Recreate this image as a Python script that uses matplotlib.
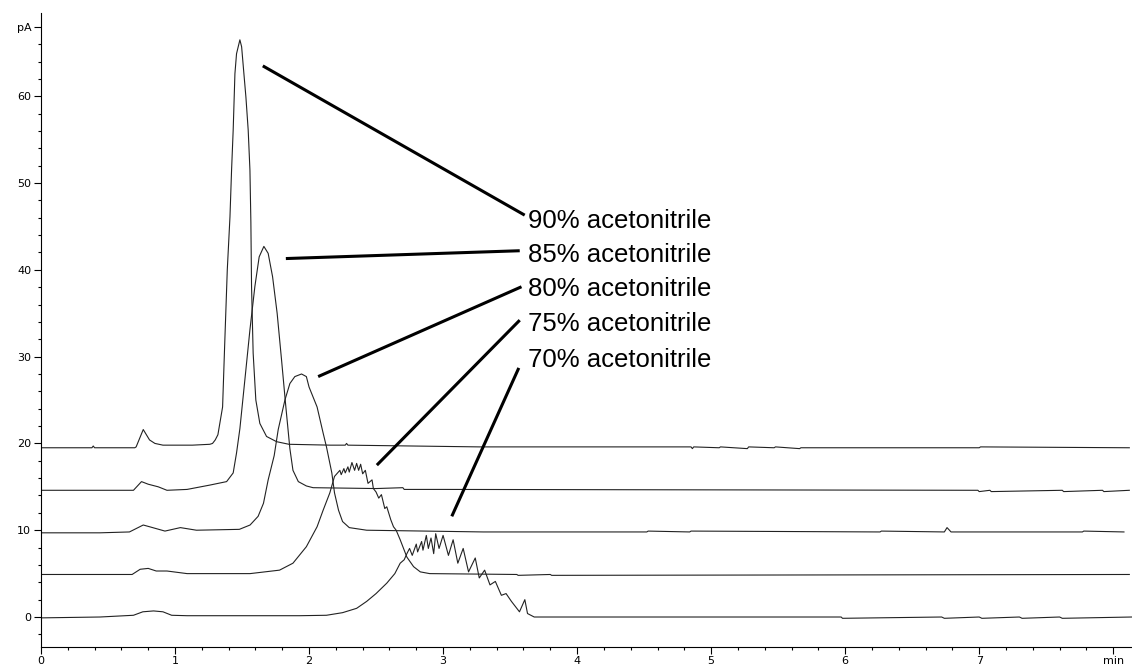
import matplotlib
matplotlib.use('Agg')
import matplotlib.pyplot as plt
from matplotlib.ticker import MultipleLocator, FixedLocator, FixedFormatter

# chromatogram traces: time (min), signal (pA)
t90 = [0.0, 0.38, 0.39, 0.40, 0.70, 0.71, 0.763, 0.81, 0.85, 0.91, 1.13, 1.26, 1.28, 1.30, 1.32,
       1.355, 1.37, 1.39, 1.41, 1.422, 1.434, 1.447, 1.459, 1.484, 1.497, 1.514, 1.529, 1.546,
       1.559, 1.566, 1.571, 1.583, 1.603, 1.633, 1.683, 1.758, 1.85, 2.16, 2.27, 2.28, 2.29,
       3.27, 4.85, 4.86, 4.87, 5.06, 5.07, 5.27, 5.28, 5.47, 5.48, 5.66, 5.67, 7.0, 7.01, 8.12]
y90 = [19.5, 19.5, 19.7, 19.5, 19.5, 19.6, 21.6, 20.4, 20.0, 19.8, 19.8, 19.9, 20.0, 20.4, 21.0,
       24.2, 31.1, 40.0, 46.1, 51.5, 56.1, 62.6, 64.9, 66.5, 65.7, 62.6, 59.9, 56.1,
       51.5, 45.5, 38.1, 30.4, 25.0, 22.3, 20.8, 20.2, 19.9, 19.8, 19.8, 20.0, 19.8,
       19.6, 19.6, 19.4, 19.6, 19.5, 19.6, 19.4, 19.6, 19.5, 19.6, 19.4, 19.5, 19.5, 19.6, 19.5]

t85 = [0.0, 0.69, 0.75, 0.80, 0.875, 0.94, 1.09, 1.26, 1.385, 1.434, 1.459, 1.484, 1.521, 1.559,
       1.596, 1.628, 1.663, 1.695, 1.728, 1.762, 1.795, 1.827, 1.857, 1.88, 1.92, 1.98, 2.03,
       2.5, 2.70, 2.71, 3.0, 6.99, 7.0, 7.08, 7.09, 7.62, 7.63, 7.92, 7.93, 8.12]
y85 = [14.6, 14.6, 15.6, 15.3, 15.0, 14.6, 14.7, 15.2, 15.6, 16.6, 18.9, 21.7, 27.3, 33.1,
       38.1, 41.5, 42.7, 41.9, 39.2, 35.0, 29.6, 24.2, 19.4, 16.9, 15.6, 15.1, 14.9,
       14.8, 14.9, 14.7, 14.7, 14.6, 14.45, 14.6, 14.45, 14.6, 14.45, 14.6, 14.45, 14.6]

t80 = [0.0, 0.44, 0.66, 0.763, 0.81, 0.925, 1.04, 1.16, 1.48, 1.56, 1.62, 1.66, 1.695, 1.74,
       1.77, 1.82, 1.857, 1.894, 1.944, 1.98, 2.00, 2.06, 2.105, 2.13, 2.17, 2.19, 2.22, 2.25,
       2.30, 2.43, 3.3, 4.52, 4.53, 4.84, 4.85, 6.26, 6.27, 6.74, 6.76, 6.79, 7.77, 7.78, 8.08]
y80 = [9.7, 9.7, 9.8, 10.6, 10.4, 9.9, 10.3, 10.0, 10.1, 10.6, 11.6, 13.1, 15.8, 18.6,
       21.6, 25.0, 26.9, 27.7, 28.0, 27.7, 26.5, 24.2, 21.2, 19.6, 16.6, 14.3, 12.3, 11.0,
       10.3, 10.0, 9.8, 9.8, 9.9, 9.8, 9.9, 9.8, 9.9, 9.8, 10.3, 9.8, 9.8, 9.9, 9.8]

t75 = [0.0, 0.68, 0.74, 0.80, 0.86, 0.94, 1.09, 1.56, 1.78, 1.88, 1.98, 2.06, 2.105, 2.155,
       2.19, 2.23, 2.24, 2.26, 2.27, 2.29, 2.30, 2.32, 2.34, 2.355, 2.37, 2.385, 2.40, 2.42,
       2.44, 2.47, 2.48, 2.50, 2.52, 2.54, 2.565, 2.58, 2.61, 2.63, 2.65, 2.68, 2.70, 2.73,
       2.78, 2.83, 2.90, 3.55, 3.56, 3.80, 3.81, 8.12]
y75 = [4.9, 4.9, 5.5, 5.6, 5.3, 5.3, 5.0, 5.0, 5.4, 6.2, 8.1, 10.4, 12.3, 14.3,
       16.2, 16.9, 16.4, 17.1, 16.6, 17.3, 16.7, 17.8, 16.9, 17.7, 16.9, 17.6, 16.5, 16.9,
       15.4, 15.8, 14.8, 14.4, 13.7, 14.1, 12.5, 12.7, 11.2, 10.4, 10.0, 8.9, 8.1, 6.9,
       5.8, 5.2, 5.0, 4.9, 4.8, 4.9, 4.8, 4.9]

t70 = [0.0, 0.44, 0.69, 0.76, 0.84, 0.91, 0.975, 1.09, 1.93, 2.13, 2.25, 2.355, 2.43, 2.50,
       2.58, 2.64, 2.68, 2.71, 2.73, 2.75, 2.77, 2.80, 2.81, 2.84, 2.85, 2.875, 2.89, 2.91,
       2.93, 2.945, 2.97, 3.0, 3.04, 3.075, 3.11, 3.15, 3.19, 3.24, 3.27, 3.31, 3.35, 3.39,
       3.435, 3.47, 3.51, 3.57, 3.61, 3.63, 3.68, 5.97, 5.98, 6.72, 6.74, 7.0, 7.02, 7.3,
       7.32, 7.6, 7.62, 8.14]
y70 = [-0.1, 0.0, 0.2, 0.6, 0.7, 0.6, 0.2, 0.15, 0.15, 0.2, 0.5, 1.0, 1.8, 2.7,
       3.9, 5.0, 6.2, 6.6, 7.3, 7.9, 7.1, 8.4, 7.5, 8.7, 7.7, 9.4, 7.9, 9.1,
       7.3, 9.6, 7.9, 9.4, 7.1, 8.9, 6.2, 7.9, 5.2, 6.8, 4.5, 5.4, 3.7, 4.1,
       2.5, 2.7, 1.8, 0.6, 2.0, 0.4, 0.0, 0.0, -0.15, 0.0, -0.15, 0.0, -0.15, 0.0,
       -0.15, 0.0, -0.15, 0.0]

labels = ['90% acetonitrile', '85% acetonitrile', '80% acetonitrile',
          '75% acetonitrile', '70% acetonitrile']
# label anchor (min, pA) and the peak end of each pointer line
label_x = [3.63, 3.63, 3.63, 3.63, 3.63]
label_y = [44.85, 40.93, 36.98, 32.98, 28.84]
ptr_start_x = [1.655, 1.827, 2.068, 2.506, 3.065]
ptr_start_y = [63.5, 41.3, 27.7, 17.5, 11.6]
ptr_end_x = [3.609, 3.572, 3.585, 3.572, 3.565]
ptr_end_y = [46.3, 42.2, 38.05, 34.2, 28.7]

fig = plt.figure(figsize=(11.32, 6.68), dpi=100)
ax = fig.add_axes([0.0362, 0.0319, 0.9638, 0.9481])

for t, y in [(t90, y90), (t85, y85), (t80, y80), (t75, y75), (t70, y70)]:
    ax.plot(t, y, color='#222222', lw=0.8)

for i in range(len(labels)):
    ax.plot([ptr_start_x[i], ptr_end_x[i]], [ptr_start_y[i], ptr_end_y[i]],
            color='black', lw=2.2, solid_capstyle='butt')
    ax.text(label_x[i], label_y[i], labels[i], fontsize=18.5, family='Liberation Sans',
            va='baseline', ha='left')

ax.set_xlim(0, 8.14)
ax.set_ylim(-3.42, 69.55)
for s in ['top', 'right']:
    ax.spines[s].set_visible(False)
for s in ['left', 'bottom']:
    ax.spines[s].set_linewidth(0.8)

ax.xaxis.set_major_locator(FixedLocator([0, 1, 2, 3, 4, 5, 6, 7, 8]))
ax.xaxis.set_major_formatter(FixedFormatter(['0', '1', '2', '3', '4', '5', '6', '7', 'min']))
ax.xaxis.set_minor_locator(MultipleLocator(0.2))
ax.yaxis.set_major_locator(FixedLocator([0, 10, 20, 30, 40, 50, 60, 68]))
ax.yaxis.set_major_formatter(FixedFormatter(['0', '10', '20', '30', '40', '50', '60', 'pA']))
ax.yaxis.set_minor_locator(MultipleLocator(2))
ax.tick_params(which='major', length=5, width=0.8, labelsize=8, direction='out', pad=2)
ax.tick_params(which='minor', length=2.2, width=0.8, direction='out')

fig.savefig('out.png', dpi=100)
